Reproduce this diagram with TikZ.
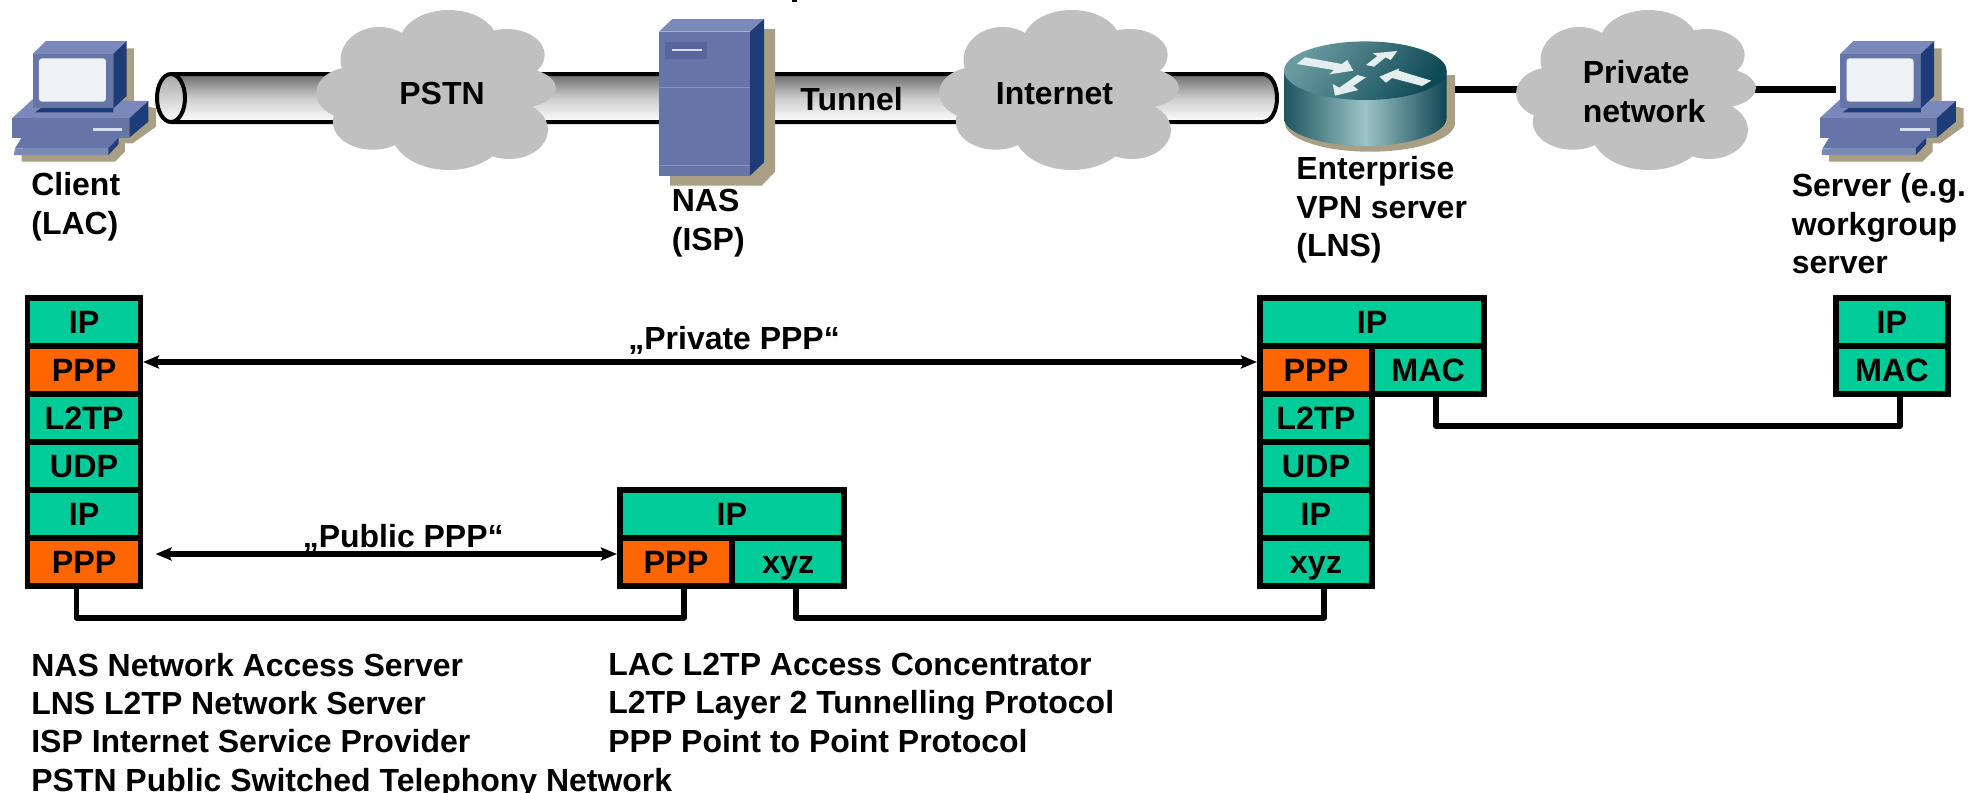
\documentclass[tikz,border=0pt]{standalone}
\usepackage{fontspec}
\setmainfont{Liberation Sans}
\usetikzlibrary{arrows.meta}
\definecolor{cellgreen}{HTML}{00CC99}
\definecolor{cellorange}{HTML}{FF6600}
\definecolor{cloudgray}{HTML}{C0C0C0}
\definecolor{pcfront}{HTML}{6674A8}
\definecolor{pctop}{HTML}{7A88BA}
\definecolor{pcside}{HTML}{1E3C78}
\definecolor{pcshadow}{HTML}{A89F85}
\definecolor{pcscreen}{HTML}{EFF3F5}
\definecolor{pcslot}{HTML}{D5DDEE}
\definecolor{pcline}{HTML}{8492C4}
\definecolor{pcpanel}{HTML}{57669C}
\definecolor{rsideL}{HTML}{1D5560}
\definecolor{rsideM}{HTML}{9CC4C6}
\definecolor{rsideR}{HTML}{0F4552}
\definecolor{rtopL}{HTML}{6A9AA0}
\definecolor{rtopR}{HTML}{0E4A56}
\definecolor{rarrow}{HTML}{E4EEEE}
\def\u{0.02cm}
\tikzset{
  x=0.02cm,y=-0.02cm,
  txt/.style={font=\bfseries\fontsize{18.2}{21.9}\selectfont,inner sep=0pt,align=left,anchor=north west},
  celltxt/.style={font=\bfseries\fontsize{18.4}{20}\selectfont,inner sep=0pt,text height=13.4pt,text depth=0pt,draw=none},
  gcell/.style={celltxt,fill=cellgreen},
  ocell/.style={celltxt,fill=cellorange},
  cw/.style={minimum width=#1*0.02cm},
  ch/.style={minimum height=41.8*0.02cm},
  link/.style={line width=5.7*0.02cm,line join=round,line cap=round},
  wire/.style={line width=6.5*0.02cm},
  dbl/.style={line width=5.8*0.02cm,{Stealth[length=16*0.02cm,width=13*0.02cm,inset=3*0.02cm]}-{Stealth[length=16*0.02cm,width=13*0.02cm,inset=3*0.02cm]}},
  tubeline/.style={line width=4*0.02cm},
  arrowmark/.style={fill=rarrow},
}
\newcommand\pcicon{%
  \fill[pcshadow] (350,25)--(402,25)--(402,190)--(468,205)--(468,260)--(398,310)--(375,310)--(375,335)--(345,365)--(65,365)--(65,330)--cycle;
  \fill[pctop] (36,235)--(98,178)--(445,183)--(388,235)--cycle;
  \fill[pcfront] (36,235)--(388,235)--(388,293)--(36,293)--cycle;
  \fill[pcside] (388,235)--(445,183)--(445,245)--(388,293)--cycle;
  \draw[pcslot,line width=3*0.02cm] (278,267)--(367,267);
  \fill[pcfront] (65,293)--(356,293)--(325,325)--(45,325)--cycle;
  \fill[pctop] (45,325)--(325,325)--(325,345)--(42,345)--cycle;
  \fill[pcside] (325,325)--(356,293)--(356,312)--(325,345)--cycle;
  \fill[pcside] (105,217)--(125,203)--(340,203)--(340,217)--cycle;
  \fill[pcfront] (98,42)--(340,42)--(340,205)--(98,205)--cycle;
  \fill[pctop] (98,42)--(138,3)--(380,3)--(340,42)--cycle;
  \fill[pcside] (340,42)--(380,3)--(380,168)--(340,205)--cycle;
  \fill[pcscreen,rounded corners=3*0.02cm] (117,55) rectangle (318,185);
}
\newcommand\cloudblob[1]{%
  \begin{scope}[shift={(#1,0)}]
  \fill[cloudgray]
    (448.7,43) ellipse [x radius=49*\u,y radius=33*\u]
    (379.5,60) ellipse [x radius=39*\u,y radius=33*\u]
    (506.7,55) ellipse [x radius=38*\u,y radius=26*\u]
    (352.7,93) ellipse [x radius=36.6*\u,y radius=26*\u]
    (517.9,88) ellipse [x radius=38*\u,y radius=20*\u]
    (508.9,130) ellipse [x radius=39*\u,y radius=29*\u]
    (448.7,130) ellipse [x radius=58*\u,y radius=40*\u]
    (372.8,121.7) ellipse [x radius=40*\u,y radius=28*\u]
    (437.5,93) ellipse [x radius=89*\u,y radius=50*\u];
  \end{scope}}
\begin{document}
\begin{tikzpicture}
\useasboundingbox (0,0) rectangle (1969,792);
\fill[white] (0,0) rectangle (1969,792);
% tunnel tube
\shade[top color=black!58,bottom color=white,middle color=black!20]
  (171,74) -- (1262,74) .. controls (1281,74) and (1281,122) .. (1262,122) -- (171,122)
  .. controls (152,122) and (152,74) .. (171,74) -- cycle;
\draw[tubeline] (171,74) -- (1262,74) .. controls (1282,74) and (1282,122) .. (1262,122) -- (171,122);
\shade[top color=black!35,bottom color=white,draw=black,tubeline] (171,98) ellipse [x radius=14*\u,y radius=24*\u];
% private link
\coordinate (routerE) at (1450,89.5);
\coordinate (privW) at (1530,89.5);
\coordinate (privE) at (1740,89.5);
\coordinate (serverW) at (1836,89.5);
\draw[wire] (routerE) -- (privW);
\draw[wire] (privE) -- (serverW);
% clouds
\cloudblob{0}
\cloudblob{623}
\cloudblob{1200}
\node[txt] (pstn) at (399,82) {PSTN};
\node[txt] (internet) at (995.5,82) {Internet};
\node[txt] (private) at (1582.5,60) {Private\\network};
\node[txt] (tunnel) at (800,87) {Tunnel};
% client and server computers
\begin{scope}[shift={(0,40)},scale=1/3]\pcicon\end{scope}
\begin{scope}[shift={(1807.5,40)},scale=1/3]\pcicon\end{scope}
% NAS tower
\begin{scope}[shift={(640,0)},scale=1/3]
  \fill[pcshadow] (340,87)--(405,87)--(405,515)--(365,557)--(90,557)--(90,500)--cycle;
  \fill[pctop] (57,95)--(97,57)--(372,57)--(330,95)--cycle;
  \fill[pcfront] (57,95)--(330,95)--(330,527)--(57,527)--cycle;
  \fill[pcside] (330,95)--(372,57)--(372,487)--(330,527)--cycle;
  \fill[pcpanel] (75,127) rectangle (202,177);
  \draw[pcslot,line width=2.5*0.02cm] (95,150)--(185,150);
  \draw[pcline,line width=1.5*0.02cm] (57,263)--(330,263);
  \draw[pcline,line width=1.5*0.02cm] (57,497)--(330,497);
\end{scope}
% router
\fill[pcshadow] (1370,123) ellipse [x radius=85*\u,y radius=28.7*\u];
\fill[pcshadow] (1370,75) rectangle (1455,123);
\shade[left color=rsideL,right color=rsideR,middle color=rsideM]
  (1365.3,118) ellipse [x radius=81.3*\u,y radius=28*\u]
  (1284,70.7) rectangle (1446.6,118);
\shade[top color=rtopL,bottom color=rtopR,shading angle=55]
  (1365.3,70.7) ellipse [x radius=81.3*\u,y radius=29.3*\u];
\begin{scope}[shift={(1270,40)},scale=1/3]
  \fill[arrowmark] (80,72)--(105,52)--(215,72)--(232,60)--(250,92)--(178,103)--(192,90)--cycle;
  \fill[arrowmark] (288,75)--(322,48)--(308,40)--(382,33)--(362,60)--(347,52)--(312,80)--cycle;
  \fill[arrowmark] (288,112)--(250,138)--(265,150)--(195,167)--(188,132)--(208,143)--(262,105)--cycle;
  \fill[arrowmark] (484,122)--(385,92)--(388,85)--(328,110)--(348,128)--(366,114)--(456,138)--cycle;
\end{scope}
% device labels
\node[txt] (client) at (31,172) {Client\\(LAC)};
\node[txt] (nas) at (671.5,189) {NAS\\(ISP)};
\node[txt] (lns) at (1296,156) {Enterprise\\VPN server\\(LNS)};
\node[txt] (srv) at (1791.5,173) {Server (e.g.\\workgroup\\server};
\fill (792,0) rectangle (797,1.5);
% protocol stacks: frames
\fill (25,295) rectangle (143,589);
\fill (617,487) rectangle (847,589);
\fill (1257,295) rectangle (1487,397);
\fill (1257,397) rectangle (1375,589);
\fill (1833,295) rectangle (1951,397);
% client stack
\node[gcell,ch,cw=107.4] (c1) at (84.1,322) {IP};
\node[ocell,ch,cw=107.4] (c2) at (84.1,370) {PPP};
\node[gcell,ch,cw=107.4] (c3) at (84.1,418) {L2TP};
\node[gcell,ch,cw=107.4] (c4) at (84.1,466) {UDP};
\node[gcell,ch,cw=107.4] (c5) at (84.1,514) {IP};
\node[ocell,ch,cw=107.4] (c6) at (84.1,562) {PPP};
% NAS stack
\node[gcell,ch,cw=218] (n1) at (732,514) {IP};
\node[ocell,ch,cw=106] (n2) at (676,562) {PPP};
\node[gcell,ch,cw=105.6] (n3) at (788.2,562) {xyz};
% LNS stack
\node[gcell,ch,cw=218.5] (l1) at (1372.2,322) {IP};
\node[ocell,ch,cw=106] (l2) at (1316,370) {PPP};
\node[gcell,ch,cw=106.5] (l3) at (1428.2,370) {MAC};
\node[gcell,ch,cw=106] (l4) at (1316,418) {L2TP};
\node[gcell,ch,cw=106] (l5) at (1316,466) {UDP};
\node[gcell,ch,cw=106] (l6) at (1316,514) {IP};
\node[gcell,ch,cw=106] (l7) at (1316,562) {xyz};
% server stack
\node[gcell,ch,cw=106] (s1) at (1892,322) {IP};
\node[gcell,ch,cw=106] (s2) at (1892,370) {MAC};
% physical links
\coordinate (a1) at (76.4,589);
\coordinate (a2) at (683.7,589);
\coordinate (b1) at (796,589);
\coordinate (b2) at (1324,589);
\coordinate (d1) at (1436,397);
\coordinate (d2) at (1900,397);
\draw[link] (a1) -- ++(0,28.7) -| (a2);
\draw[link] (b1) -- ++(0,28.7) -| (b2);
\draw[link] (d1) -- ++(0,29) -| (d2);
% logical PPP links
\coordinate (p1) at (143,362);
\coordinate (p2) at (1257,362);
\coordinate (q1) at (155.6,554);
\coordinate (q2) at (617,554);
\draw[dbl] (p1) -- (p2);
\draw[dbl] (q1) -- (q2);
\node[txt] (privppp) at (628,326) {„Private PPP“};
\node[txt] (pubppp) at (302.5,523.7) {„Public PPP“};
% legend
\node[txt] (leg1) at (31,652.5) {NAS Network Access Server\\LNS L2TP Network Server\\ISP Internet Service Provider\\PSTN Public Switched Telephony Network};
\node[txt] (leg2) at (608,652.5) {LAC L2TP Access Concentrator\\L2TP Layer 2 Tunnelling Protocol\\PPP Point to Point Protocol};
\end{tikzpicture}
\end{document}
